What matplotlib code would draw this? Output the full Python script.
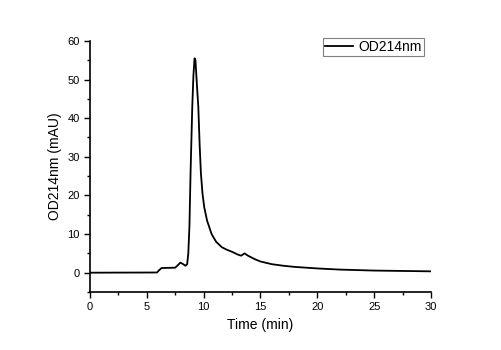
import matplotlib
matplotlib.use("Agg")
from matplotlib import pyplot as plt
from matplotlib.ticker import MultipleLocator

# chromatogram
time_min = [0, 5.9, 6.1, 6.3, 7.5, 7.75, 7.95, 8.15, 8.4, 8.55, 8.65, 8.75, 8.85,
            9.0, 9.1, 9.2, 9.28, 9.4, 9.53, 9.65, 9.76, 9.9, 10.05, 10.3, 10.7,
            11.1, 11.6, 12.0, 12.5, 13.0, 13.3, 13.6, 13.9, 14.5, 15.0, 16.0,
            17.0, 18.0, 20.0, 22.0, 25.0, 30.0]
od214 = [0, 0.05, 0.7, 1.2, 1.3, 2.0, 2.6, 2.3, 1.8, 2.2, 5, 12, 26,
         43, 51, 55.5, 55, 49, 43, 33, 25.7, 20.5, 17, 13.5, 10,
         8, 6.6, 6.0, 5.4, 4.7, 4.4, 5.0, 4.4, 3.5, 2.9, 2.2,
         1.8, 1.5, 1.1, 0.8, 0.55, 0.35]

plt.rcParams['font.family'] = ['Liberation Sans', 'DejaVu Sans']

fig = plt.figure(figsize=(5.01, 3.5), dpi=100)
ax = fig.add_axes([0.1796, 0.1657, 0.6806, 0.7174])
ax.plot(time_min, od214, color="black", lw=1.3, label="OD214nm")

ax.set_xlim(0, 30)
ax.set_ylim(-5, 60)
ax.xaxis.set_major_locator(MultipleLocator(5))
ax.xaxis.set_minor_locator(MultipleLocator(2.5))
ax.yaxis.set_major_locator(MultipleLocator(10))
ax.yaxis.set_minor_locator(MultipleLocator(5))
ax.tick_params(which="major", direction="out", length=4, width=1, labelsize=8)
ax.tick_params(which="minor", direction="out", length=2.5, width=1)
for side in ("top", "right"):
    ax.spines[side].set_visible(False)
for side in ("left", "bottom"):
    ax.spines[side].set_linewidth(1.2)

ax.set_xlabel("Time (min)", fontsize=10)
ax.set_ylabel("OD214nm (mAU)", fontsize=10)

leg = ax.legend(loc="upper right", bbox_to_anchor=(0.979, 1.012), borderaxespad=0,
                fancybox=False, fontsize=10, handlelength=2.0, handletextpad=0.4,
                borderpad=0.15, framealpha=1)
leg.get_frame().set_edgecolor("#808080")
leg.get_frame().set_linewidth(0.8)

fig.savefig("out.png", dpi=100)
